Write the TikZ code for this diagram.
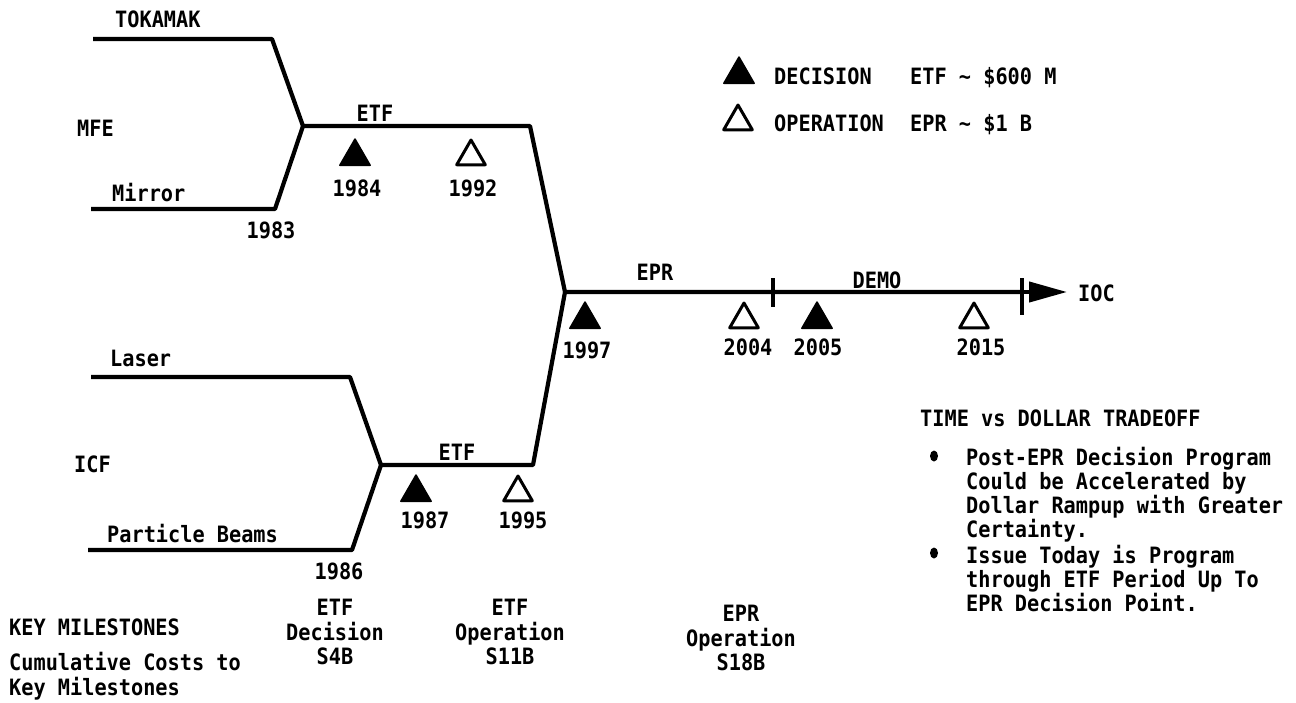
\documentclass[tikz,border=0pt]{standalone}
\usepackage{fontspec}
\setmainfont{DejaVu Sans Mono}
\newfontfamily\labfont[FakeStretch=0.9]{DejaVu Sans Mono}
\usetikzlibrary{shapes.geometric,arrows.meta}
\begin{document}
\begin{tikzpicture}[x=1pt,y=-1pt,
  lbl/.style={inner sep=0pt, font=\labfont\bfseries\fontsize{22.5pt}{24.5pt}\selectfont, text height=16pt, text depth=0pt},
  stack/.style={inner sep=0pt, anchor=north, align=center, font=\labfont\bfseries\fontsize{22.5pt}{24.5pt}\selectfont},
  rtx/.style={inner sep=0pt, anchor=north west, align=left, font=\labfont\bfseries\fontsize{22.5pt}{24pt}\selectfont},
  track/.style={line width=4.2pt, line join=round},
  dec/.style={regular polygon, regular polygon sides=3, minimum size=35pt, inner sep=0pt, fill=black, draw=black, line width=1.5pt, line join=round},
  ope/.style={regular polygon, regular polygon sides=3, minimum size=33pt, inner sep=0pt, draw=black, line width=3pt, line join=round},
  bul/.style={ellipse, fill=black, inner sep=0pt, minimum width=8pt, minimum height=11pt}
]
\useasboundingbox (0,0) rectangle (1296,702);

% track coordinates
\coordinate (tA) at (93,39);
\coordinate (tB) at (272,39);
\coordinate (J1) at (303,126);
\coordinate (mA) at (91,209);
\coordinate (mB) at (275,209);
\coordinate (E1) at (530,126);
\coordinate (J3) at (565,292);
\coordinate (lA) at (91,377);
\coordinate (lB) at (350,377);
\coordinate (J2) at (381,465);
\coordinate (pA) at (88,550);
\coordinate (pB) at (352,550);
\coordinate (E2) at (533,465);
\coordinate (k1) at (773,292);
\coordinate (k2) at (1022,292);
\coordinate (tip) at (1067,292);
\coordinate (k1t) at (773,278);
\coordinate (k1b) at (773,307);
\coordinate (k2t) at (1022,278);
\coordinate (k2b) at (1022,315);

\draw[track] (tA) -- (tB) -- (J1) -- (E1) -- (J3) -- (k1) -- (k2);
\draw[track] (mA) -- (mB) -- (J1);
\draw[track] (lA) -- (lB) -- (J2) -- (E2) -- (J3);
\draw[track] (pA) -- (pB) -- (J2);
\draw[track, -{Triangle[length=38pt,width=20pt]}] (k2) -- (tip);
\draw[track] (k1t) -- (k1b);
\draw[track] (k2t) -- (k2b);

% branch labels
\node[lbl, anchor=west] (tok) at (115,19) {TOKAMAK};
\node[lbl, anchor=west] (mfe) at (77,128) {MFE};
\node[lbl, anchor=west] (mir) at (112,193) {Mirror};
\node[lbl] (y1983) at (271,230) {1983};
\node[lbl, anchor=west] (las) at (110,358) {Laser};
\node[lbl, anchor=west] (icf) at (74,464) {ICF};
\node[lbl, anchor=west] (pbm) at (107,534) {Particle Beams};
\node[lbl] (y1986) at (339,571) {1986};

% phase labels
\node[lbl] (etf1) at (375,113) {ETF};
\node[lbl] (etf2) at (457,452) {ETF};
\node[lbl] (epr) at (655,272) {EPR};
\node[lbl] (demo) at (877,280) {DEMO};
\node[lbl, anchor=west] (ioc) at (1078,293) {IOC};

% milestones
\node[dec] (m1984) at (355,156.5) {};
\node[lbl] (y1984) at (357,188) {1984};
\node[ope] (m1992) at (471,156.5) {};
\node[lbl] (y1992) at (473,188) {1992};
\node[dec] (m1987) at (416,492.5) {};
\node[lbl] (y1987) at (425,520) {1987};
\node[ope] (m1995) at (518,492.5) {};
\node[lbl] (y1995) at (523,520) {1995};
\node[dec] (m1997) at (585,319.5) {};
\node[lbl] (y1997) at (587,350) {1997};
\node[ope] (m2004) at (744,319.5) {};
\node[lbl] (y2004) at (748,347) {2004};
\node[dec] (m2005) at (817,319.5) {};
\node[lbl] (y2005) at (818,347) {2005};
\node[ope] (m2015) at (974,319.5) {};
\node[lbl] (y2015) at (981,347) {2015};

% legend
\node[dec] (lgD) at (739,74.5) {};
\node[lbl, anchor=west] (lgDt) at (774,76) {DECISION};
\node[lbl, anchor=west] (lgDc) at (910,76) {ETF \textasciitilde{} \$600 M};
\node[ope] (lgO) at (738,121.5) {};
\node[lbl, anchor=west] (lgOt) at (774,123) {OPERATION};
\node[lbl, anchor=west] (lgOc) at (910,123) {EPR \textasciitilde{} \$1 B};

% key milestones
\node[lbl, anchor=west] (key) at (9,627) {KEY MILESTONES};
\node[stack, align=left, anchor=north west] (cum) at (9,652) {Cumulative Costs to\\Key Milestones};
\node[stack] (c1) at (335,599) {ETF\\Decision\\S4B};
\node[stack] (c2) at (510,599) {ETF\\Operation\\S11B};
\node[stack] (c3) at (741,605) {EPR\\Operation\\S18B};

% tradeoff
\node[lbl, anchor=west] (tvd) at (920,418) {TIME vs DOLLAR TRADEOFF};
\node[bul] (b1) at (934,456) {};
\node[rtx] (p1) at (966,447) {Post-EPR Decision Program\\Could be Accelerated by\\Dollar Rampup with Greater\\Certainty.};
\node[bul] (b2) at (934,553) {};
\node[rtx] (p2) at (966,545) {Issue Today is Program\\through ETF Period Up To\\EPR Decision Point.};
\end{tikzpicture}
\end{document}
